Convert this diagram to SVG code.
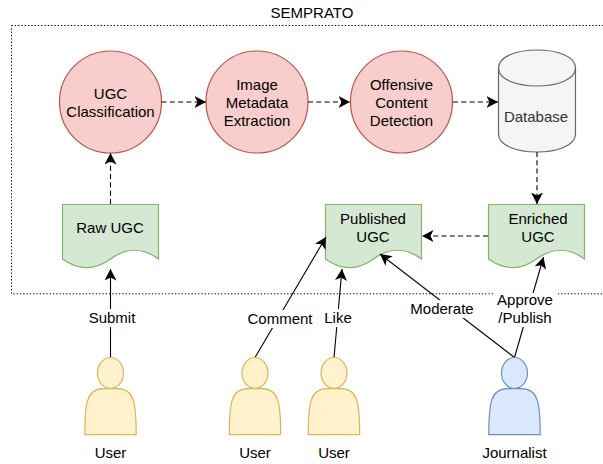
<svg xmlns="http://www.w3.org/2000/svg" width="603" height="464" viewBox="0 0 603 464">
<defs>
<style>
text{font-family:"Liberation Sans",Arial,sans-serif;font-size:15px;fill:#000;text-anchor:middle}
.proc{fill:#f8cecc;stroke:#b85450;stroke-width:1.200}
.doc{fill:#d5e8d4;stroke:#82b366;stroke-width:1.200}
.user{fill:#fff2cc;stroke:#d6b656;stroke-width:1.200}
.jour{fill:#dae8fc;stroke:#6c8ebf;stroke-width:1.200}
.db{fill:#f5f5f5;stroke:#666;stroke-width:1.200}
.c{fill:none;stroke:#000;stroke-width:1.100;marker-end:url(#a)}
.d{stroke-dasharray:5 3.300}
.lb{fill:#fff;stroke:none}
</style>
<marker id="a" markerUnits="userSpaceOnUse" markerWidth="12" markerHeight="12" viewBox="0 0 12 12" refX="11.500" refY="6" orient="auto"><path d="M11.500 6 0 0 3 6 0 12z" fill="#000"/></marker>
<path id="docshape" d="M0 0H96V54.400Q72 37.100 48 54.400 24 71.700 0 54.400Z"/>
<path id="body" d="M-25.700 46C-25.700 15-24 0 -7 0H7C24 0 25.700 15 25.700 46Z"/>
</defs>
<rect id="frame" x="11.500" y="25.500" width="600" height="268.300" fill="none" stroke="#000" stroke-dasharray="1.300 2"/>
<text x="312" y="18">SEMPRATO</text>
<g id="classification"><circle class="proc" cx="110.500" cy="102" r="51"/><text x="110.500" y="99">UGC</text><text x="110.500" y="117">Classification</text></g>
<g id="metadata"><circle class="proc" cx="257" cy="102" r="51"/><text x="257" y="90">Image</text><text x="257" y="108">Metadata</text><text x="257" y="126">Extraction</text></g>
<g id="offensive"><circle class="proc" cx="401.500" cy="102" r="51"/><text x="401.500" y="90">Offensive</text><text x="401.500" y="108">Content</text><text x="401.500" y="126">Detection</text></g>
<g id="database"><path class="db" d="M498.500 68C498.500 44 575.500 44 575.500 68V134C575.500 158 498.500 158 498.500 134Z"/><path class="db" style="fill:none" d="M498.500 68C498.500 92 575.500 92 575.500 68"/><text x="536" y="122" style="fill:#333">Database</text></g>
<g id="raw"><use href="#docshape" class="doc" x="62.500" y="204.500"/><text x="110" y="233">Raw UGC</text></g>
<g id="published"><use href="#docshape" class="doc" x="325.500" y="204.500"/><text x="373" y="224">Published</text><text x="373" y="242">UGC</text></g>
<g id="enriched"><use href="#docshape" class="doc" x="488.500" y="204.500"/><text x="538" y="224">Enriched</text><text x="538" y="242">UGC</text></g>
<g id="connectors">
<path class="c d" d="M110.500 204V153"/>
<path class="c d" d="M161.500 102H206"/>
<path class="c d" d="M308 102H350"/>
<path class="c d" d="M453 102H498"/>
<path class="c d" d="M537 152V204"/>
<path class="c d" d="M488 236H422"/>
<path class="c" d="M110.500 357.500V269"/>
<path class="c" d="M255 357.500L326 237"/>
<path class="c" d="M334 357.500L342 269"/>
<path class="c" d="M514.500 357.500L380 254"/>
<path class="c" d="M514.500 357.500L543.500 257"/>
<rect class="lb" x="87" y="309" width="50" height="18"/><text x="112" y="323">Submit</text>
<rect class="lb" x="246" y="310" width="70" height="18"/><text x="280" y="324">Comment</text>
<rect class="lb" x="323" y="309" width="30" height="18"/><text x="338" y="323">Like</text>
<rect class="lb" x="408" y="300" width="68" height="18"/><text x="442" y="314">Moderate</text>
<rect class="lb" x="494" y="293" width="64" height="34"/><text x="525" y="305">Approve</text><text x="525" y="323">/Publish</text>
</g>
<g id="user1"><use href="#body" class="user" x="110.500" y="388.700"/><ellipse class="user" cx="110.500" cy="373" rx="13" ry="15.500"/><text x="110.500" y="458">User</text></g>
<g id="user2"><use href="#body" class="user" x="255" y="388.700"/><ellipse class="user" cx="255" cy="373" rx="13" ry="15.500"/><text x="255" y="458">User</text></g>
<g id="user3"><use href="#body" class="user" x="334" y="388.700"/><ellipse class="user" cx="334" cy="373" rx="13" ry="15.500"/><text x="334" y="458">User</text></g>
<g id="journalist"><use href="#body" class="jour" x="514.500" y="388.700"/><ellipse class="jour" cx="514.500" cy="373" rx="13" ry="15.500"/><text x="514.500" y="458">Journalist</text></g>
</svg>
